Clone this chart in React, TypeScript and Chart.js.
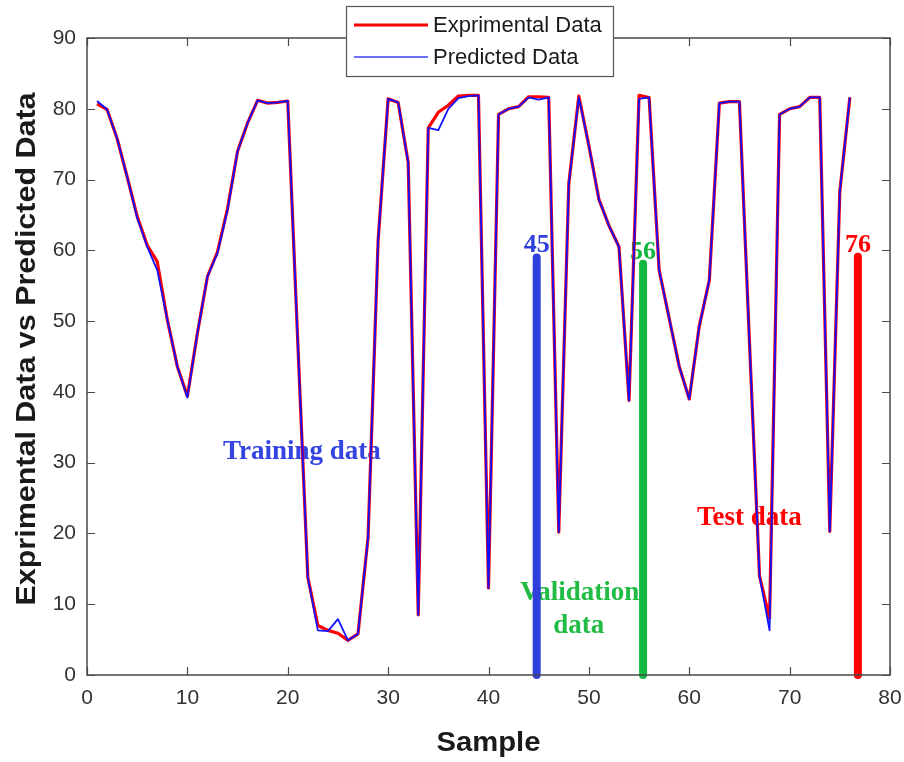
import React, { useEffect, useRef } from "react";
import { Chart, registerables } from "chart.js";

Chart.register(...registerables);

// ---------- data ----------
const samples = [
  1, 2, 3, 4, 5, 6, 7, 8, 9, 10, 11, 12, 13, 14, 15, 16, 17, 18, 19, 20,
  21, 22, 23, 24, 25, 26, 27, 28, 29, 30, 31, 32, 33, 34, 35, 36, 37, 38, 39, 40,
  41, 42, 43, 44, 45, 46, 47, 48, 49, 50, 51, 52, 53, 54, 55, 56, 57, 58, 59, 60,
  61, 62, 63, 64, 65, 66, 67, 68, 69, 70, 71, 72, 73, 74, 75, 76,
];

const experimental = [
  80.7, 79.9, 75.8, 70.4, 64.8, 60.7, 58.4, 50.2, 43.6, 39.4,
  48.3, 56.3, 59.8, 65.9, 74.0, 78.0, 81.2, 80.8, 80.9, 81.1,
  47.0, 13.8, 7.0, 6.3, 5.9, 4.9, 5.8, 19.4, 61.3, 81.4,
  80.9, 72.4, 8.5, 77.3, 79.5, 80.5, 81.8, 81.9, 81.9, 12.3,
  79.2, 80.0, 80.3, 81.7, 81.7, 81.6, 20.2, 69.4, 81.8, 74.8,
  67.2, 63.5, 60.5, 38.8, 81.9, 81.6, 57.2, 50.4, 43.6, 39.0,
  49.3, 55.8, 80.8, 81.0, 81.0, 47.0, 14.0, 8.0, 79.2, 80.0,
  80.3, 81.6, 81.6, 20.3, 68.3, 81.6,
];

const predicted = [
  81.1, 79.9, 75.8, 70.4, 64.6, 60.5, 57.2, 50.2, 43.6, 39.2,
  48.3, 56.3, 59.6, 65.7, 74.0, 78.0, 81.2, 80.8, 80.9, 81.1,
  47.0, 13.8, 6.3, 6.2, 7.9, 4.9, 5.8, 19.4, 61.3, 81.4,
  80.9, 72.4, 8.5, 77.3, 77.0, 80.0, 81.5, 81.8, 81.9, 12.3,
  79.2, 80.0, 80.3, 81.6, 81.3, 81.6, 20.2, 69.4, 81.6, 74.8,
  67.2, 63.5, 60.5, 38.8, 81.4, 81.6, 57.2, 50.4, 43.6, 39.0,
  49.3, 55.8, 80.8, 81.0, 81.0, 47.0, 14.0, 6.3, 79.2, 80.0,
  80.3, 81.6, 81.6, 20.3, 68.3, 81.6,
];

const xTicks = [0, 10, 20, 30, 40, 50, 60, 70, 80];
const yTicks = [0, 10, 20, 30, 40, 50, 60, 70, 80, 90];

// split markers (training / validation / test boundaries)
const splitSamples = [44.8, 55.4, 76.8];
const splitTops = [59.0, 58.1, 59.1];
const splitLabels = ["45", "56", "76"];
const splitColors = ["#2f3fdc", "#14b840", "#ff0000"];

// region annotations (data coordinates)
const regionTexts = ["Training data", "Validation", "data", "Test data"];
const regionX = [21.4, 49.1, 49.0, 66.0];
const regionY = [30.5, 10.6, 6.0, 21.2];
const regionColors = ["#3344e0", "#22bb44", "#22bb44", "#ff0000"];

const legendLabels = ["Exprimental Data", "Predicted Data"];

// ---------- helpers ----------
const SANS = "'Liberation Sans', Arial, sans-serif";
const SERIF = "'Liberation Serif', 'Times New Roman', serif";

function fitText(
  ctx: CanvasRenderingContext2D,
  text: string,
  x: number,
  y: number,
  targetW: number,
  font: string,
  color: string,
  rotate: boolean
) {
  ctx.save();
  ctx.font = font;
  const w = ctx.measureText(text).width;
  ctx.translate(x, y);
  if (rotate) ctx.rotate(-Math.PI / 2);
  ctx.scale(targetW / w, 1);
  ctx.textAlign = "center";
  ctx.textBaseline = "alphabetic";
  ctx.fillStyle = color;
  ctx.fillText(text, 0, 0);
  ctx.restore();
}

const overlayPlugin = {
  id: "overlay",
  beforeDatasetsDraw(chart: any) {
    const ctx: CanvasRenderingContext2D = chart.ctx;
    const xs = chart.scales.x;
    const ys = chart.scales.y;
    ctx.save();
    ctx.textAlign = "center";
    ctx.textBaseline = "alphabetic";
    ctx.font = `bold 27px ${SERIF}`;
    regionTexts.forEach((t, i) => {
      ctx.fillStyle = regionColors[i];
      ctx.fillText(t, xs.getPixelForValue(regionX[i]), ys.getPixelForValue(regionY[i]));
    });
    ctx.font = `bold 26px ${SERIF}`;
    splitLabels.forEach((t, i) => {
      ctx.fillStyle = splitColors[i];
      ctx.fillText(t, xs.getPixelForValue(splitSamples[i]), ys.getPixelForValue(splitTops[i]) - 5);
    });
    ctx.restore();
  },
  afterDraw(chart: any) {
    const ctx: CanvasRenderingContext2D = chart.ctx;
    const a = chart.chartArea;
    const xs = chart.scales.x;
    const ys = chart.scales.y;
    ctx.save();
    // frame
    ctx.strokeStyle = "#4a4a4a";
    ctx.lineWidth = 1.5;
    ctx.strokeRect(a.left, a.top, a.right - a.left, a.bottom - a.top);
    // inward ticks
    ctx.lineWidth = 1.2;
    const tl = 8;
    ctx.beginPath();
    xTicks.forEach((v) => {
      const px = Math.round(xs.getPixelForValue(v)) + 0.5;
      ctx.moveTo(px, a.bottom);
      ctx.lineTo(px, a.bottom - tl);
      ctx.moveTo(px, a.top);
      ctx.lineTo(px, a.top + tl);
    });
    yTicks.forEach((v) => {
      const py = Math.round(ys.getPixelForValue(v)) + 0.5;
      ctx.moveTo(a.left, py);
      ctx.lineTo(a.left + tl, py);
      ctx.moveTo(a.right, py);
      ctx.lineTo(a.right - tl, py);
    });
    ctx.stroke();

    // axis titles
    fitText(ctx, "Sample", (a.left + a.right) / 2, 751, 104, `bold 27px ${SANS}`, "#1a1a1a", false);
    fitText(ctx, "Exprimental Data vs Predicted Data", 35, 349, 513, `bold 27px ${SANS}`, "#1a1a1a", true);

    // legend box
    const bx = 346.5, by = 6.5, bw = 267, bh = 70;
    ctx.fillStyle = "#ffffff";
    ctx.fillRect(bx, by, bw, bh);
    ctx.strokeStyle = "#555555";
    ctx.lineWidth = 1.2;
    ctx.strokeRect(bx, by, bw, bh);
    ctx.lineWidth = 3;
    ctx.strokeStyle = "#ff0000";
    ctx.beginPath();
    ctx.moveTo(354, 25);
    ctx.lineTo(428, 25);
    ctx.stroke();
    ctx.lineWidth = 2;
    ctx.strokeStyle = "#6f6fff";
    ctx.beginPath();
    ctx.moveTo(354, 57);
    ctx.lineTo(428, 57);
    ctx.stroke();
    ctx.fillStyle = "#1a1a1a";
    ctx.font = `22px ${SANS}`;
    ctx.textAlign = "left";
    ctx.textBaseline = "middle";
    ctx.fillText(legendLabels[0], 433, 26);
    ctx.fillText(legendLabels[1], 433, 58);
    ctx.restore();
  },
};

export default function App() {
  const canvasRef = useRef<HTMLCanvasElement | null>(null);

  useEffect(() => {
    document.body.style.margin = "0";
    const canvas = canvasRef.current;
    if (!canvas) return;

    const expData = samples.map((s, i) => ({ x: s, y: experimental[i] }));
    const predData = samples.map((s, i) => ({ x: s, y: predicted[i] }));
    const splitSets = splitSamples.map((s, i) => ({
      label: "split" + splitLabels[i],
      data: [
        { x: s, y: 0 },
        { x: s, y: splitTops[i] },
      ],
      borderColor: splitColors[i],
      backgroundColor: splitColors[i],
      borderWidth: 8,
      borderCapStyle: "round" as const,
      pointRadius: 0,
      clip: false as any,
      order: 1,
    }));

    const chart = new Chart(canvas, {
      type: "line",
      data: {
        datasets: [
          {
            label: legendLabels[0],
            data: expData,
            borderColor: "#ff0000",
            backgroundColor: "#ff0000",
            borderWidth: 3.2,
            borderJoinStyle: "round",
            pointRadius: 0,
            tension: 0,
            order: 3,
          },
          {
            label: legendLabels[1],
            data: predData,
            borderColor: "#1010ff",
            backgroundColor: "#1010ff",
            borderWidth: 1.8,
            borderJoinStyle: "round",
            pointRadius: 0,
            tension: 0,
            order: 2,
          },
          ...splitSets,
        ],
      },
      options: {
        responsive: false,
        animation: false,
        devicePixelRatio: 1,
        layout: { padding: { top: 38, right: 14, left: 0, bottom: 0 } },
        plugins: {
          legend: { display: false },
          tooltip: { enabled: false },
          title: { display: false },
        },
        scales: {
          x: {
            type: "linear",
            min: 0,
            max: 80,
            grid: { display: false, drawTicks: false },
            border: { display: false },
            afterBuildTicks: (s: any) => {
              s.ticks = xTicks.map((v) => ({ value: v }));
            },
            afterFit: (s: any) => {
              s.height = 87;
              s.paddingLeft = 0;
              s.paddingRight = 0;
            },
            ticks: {
              padding: 11,
              maxRotation: 0,
              autoSkip: false,
              color: "#333333",
              font: { family: SANS, size: 21 },
            },
          },
          y: {
            type: "linear",
            min: 0,
            max: 90,
            grid: { display: false, drawTicks: false },
            border: { display: false },
            afterBuildTicks: (s: any) => {
              s.ticks = yTicks.map((v) => ({ value: v }));
            },
            afterFit: (s: any) => {
              s.width = 87;
              s.paddingTop = 0;
              s.paddingBottom = 0;
            },
            ticks: {
              padding: 11,
              autoSkip: false,
              color: "#333333",
              font: { family: SANS, size: 21 },
            },
          },
        },
      },
      plugins: [overlayPlugin],
    });

    return () => {
      chart.destroy();
    };
  }, []);

  return (
    <div style={{ width: 904, height: 762, background: "#ffffff" }}>
      <canvas ref={canvasRef} width={904} height={762} style={{ width: 904, height: 762, display: "block" }} />
    </div>
  );
}
